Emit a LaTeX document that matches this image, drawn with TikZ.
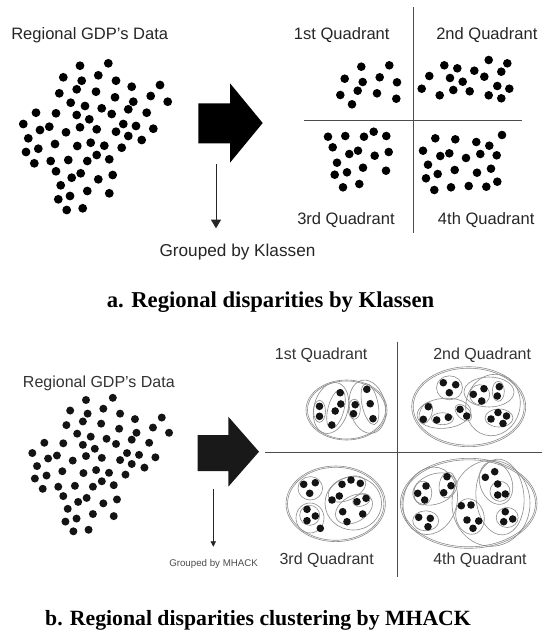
\documentclass[tikz,border=0pt]{standalone}
\usepackage{fontspec}
\setmainfont{Liberation Serif}
\newfontfamily\arial{Liberation Sans}
\usetikzlibrary{arrows.meta}
\begin{document}
\begin{tikzpicture}[x=0.75pt,y=-0.75pt,
  lbl/.style={font=\arial\fontsize{12.4}{14}\selectfont, text=black!85, inner sep=0pt, anchor=base west},
  lblb/.style={font=\arial\fontsize{12.0}{14}\selectfont, text=black!80, inner sep=0pt, anchor=base west},
  captxt/.style={font=\bfseries\fontsize{17}{20}\selectfont, inner sep=0pt, anchor=base},
  divline/.style={draw=black!70, line width=0.9pt},
  grp/.style={draw=black!45, line width=0.45pt},
  bigarrow/.style={fill=black},
  thinarrow/.style={draw=black!85, line width=0.7pt}
]
\useasboundingbox (0,0) rectangle (544,640);
\fill[white] (0,0) rectangle (544,640);

\def\dotsTL{80/65.7, 108.3/63.3, 63.3/77.3, 98.3/75.3, 81.7/80.7, 116/80.7, 131.7/86.7, 160/85,
59.3/93.3, 76.7/89.3, 96/91.7, 115/97.3, 133.3/101.7, 150.7/96, 167.7/101.7,
70.7/102.7, 85/106, 101.7/108.3, 111.7/114, 128.3/109.3, 146.7/112.7,
36/112.7, 56/113.3, 76.7/115, 89.3/119.3,
23.3/124, 40/130, 49.3/126.7, 66/132.3, 80/127.3, 96.7/129.3, 116/131.7, 123.3/124, 136/126, 153.3/128.7,
28.3/138.3, 128.3/136, 141.7/140,
26/152, 38.3/148.7, 55/144, 77.3/146, 90.7/142.7, 104.3/145.7, 121.7/147.7,
34.3/163.3, 50.7/161, 68.3/160, 87.3/161, 96.7/155, 109.3/159.3,
56/171.3, 71.7/177.7, 80.7/173.3, 98.3/179.3, 112.7/175,
60.7/185.3, 87.3/191, 109.3/193.3, 58.3/199.3, 70/196, 66.7/210, 82.7/208.3}

% ================= PART A =================
\node[lbl] (dataA) at (11,39.5) {Regional GDP’s Data};
\foreach \x/\y in \dotsTL { \fill (\x,\y) circle[radius=4.4]; }

\fill[bigarrow] (198.3,103.3) -- (230,103.3) -- (230,83.3) -- (262.7,123) -- (230,162.7) -- (230,143.3) -- (198.3,143.3) -- cycle;

\coordinate (ka) at (216,164.3);
\coordinate (kb) at (216,228.3);
\draw[thinarrow, -{Triangle[width=7.5pt,length=6.5pt]}] (ka) -- (kb);
\node[lbl, font=\arial\fontsize{12.9}{14}\selectfont] (grpK) at (159.3,256.5) {Grouped by Klassen};

\coordinate (vA1) at (413.7,7);
\coordinate (vA2) at (413.7,233);
\coordinate (hA1) at (303.7,120.7);
\coordinate (hA2) at (522,120.7);
\draw[divline] (vA1) -- (vA2);
\draw[divline] (hA1) -- (hA2);

\node[lbl] (qa1) at (293.7,39) {1st Quadrant};
\node[lbl] (qa2) at (436,39) {2nd Quadrant};
\node[lbl] (qa3) at (297,224) {3rd Quadrant};
\node[lbl] (qa4) at (437.7,224) {4th Quadrant};

\foreach \x/\y in {361.3/66.7, 389.3/65.3, 344.7/78.7, 379.7/77.3, 362.7/82, 397/82.3, 340.3/95, 357.7/90.7, 377/93.3, 352/104.3, 396.3/98.7,
444.3/65.3, 457.3/68.3, 488.7/60, 507.3/63.3, 429.3/76, 474.3/70.7, 450/78, 484.3/76.7, 501.3/71.7, 462.7/81.7, 421.7/88.7, 439.7/95.3, 453.3/90, 469.7/91.3, 488.7/95.3, 497.3/86, 509.3/88.7, 501.3/98.3,
328/136.7, 345.3/136, 364/136.7, 373.7/131.7, 386.3/136, 332.7/147.3, 349.3/154, 358/150.7, 388.7/152, 374.7/155.7, 337/162.7, 363/167.7, 386/170.7, 334.7/174.7, 347/172.3, 343/187.3, 359.3/184,
435.3/138.3, 455.3/139.3, 476.3/142, 502/135, 423/150.7, 440.3/156, 449.3/153.3, 466/158, 480.3/154, 489.3/145.7, 496.7/155.3, 428/164.7, 454.7/170, 477/172.7, 491/168.7, 426/178.3, 437.7/174, 434.3/190, 451/187.3, 468.7/186, 486.3/186.7, 497.3/181.7}
  { \fill (\x,\y) circle[radius=4.3]; }

\node[captxt] (capA) at (270.5,307) {a. Regional disparities by Klassen};

% ================= PART B =================
\node[lblb] (dataB) at (22.7,387) {Regional GDP’s Data};
\foreach \x/\y in \dotsTL { \fill[black!92] ({0.947*\x+10.24},{0.91*\y+340.2}) circle[radius=4.0]; }

\fill[bigarrow, fill=black!90] (197.7,435) -- (228.3,435) -- (228.3,416.7) -- (259,451.7) -- (228.3,486.7) -- (228.3,471) -- (197.7,471) -- cycle;

\coordinate (ma) at (213.3,489.3);
\coordinate (mb) at (213.3,546.7);
\draw[thinarrow, line width=0.5pt, -{Triangle[width=4pt,length=4pt]}] (ma) -- (mb);
\node[font=\arial\fontsize{7.3}{9}\selectfont, text=black!70, inner sep=0pt, anchor=base west] (grpM) at (169,566) {Grouped by MHACK};

\coordinate (vB1) at (397,341.7);
\coordinate (vB2) at (397,576.7);
\coordinate (hB1) at (265,452.7);
\coordinate (hB2) at (542,452.7);
\draw[divline, line width=0.7pt] (vB1) -- (vB2);
\draw[divline, line width=0.7pt] (hB1) -- (hB2);

\node[lblb] (qb1) at (274.7,359) {1st Quadrant};
\node[lblb] (qb2) at (433,359) {2nd Quadrant};
\node[lblb] (qb3) at (279.3,564) {3rd Quadrant};
\node[lblb] (qb4) at (433,564) {4th Quadrant};

% Q1 ellipses
\draw[grp] (346.5,410) ellipse (40.5 and 30);
\draw[grp] (346.5,410) ellipse (39 and 29);
\draw[grp, rotate around={-15:(331,408)}] (331,408) ellipse (17 and 26);
\draw[grp, rotate around={-15:(336,409)}] (336,409) ellipse (8 and 20);
\draw[grp] (319.5,411.3) ellipse (6 and 11);
\draw[grp, rotate around={12:(367.5,406.7)}] (367.5,406.7) ellipse (18 and 27);
\draw[grp] (354.3,409.2) ellipse (6 and 10);
\draw[grp, rotate around={12:(370,404)}] (370,404) ellipse (8 and 21);

% Q2 ellipses
\draw[grp] (468.7,406.7) ellipse (57 and 40);
\draw[grp] (468.7,406.7) ellipse (55.5 and 38.5);
\draw[grp, rotate around={-15:(493,405)}] (493,405) ellipse (27 and 31);
\draw[grp] (489,392) ellipse (25 and 15);
\draw[grp] (449.5,387.8) ellipse (13 and 12);
\draw[grp, rotate around={5:(444,413.3)}] (444,413.3) ellipse (27 and 15);
\draw[grp, rotate around={-20:(425.8,413)}] (425.8,413) ellipse (6 and 11);
\draw[grp] (442.5,418.7) ellipse (11 and 6);
\draw[grp, rotate around={-45:(463.3,412.7)}] (463.3,412.7) ellipse (10 and 6);
\draw[grp] (479.7,394.7) ellipse (10 and 10);
\draw[grp] (498.3,391.3) ellipse (6 and 10);
\draw[grp] (499,418) ellipse (14 and 9);

% Q3 ellipses
\draw[grp] (335.7,503.8) ellipse (49.7 and 37.8);
\draw[grp] (335.7,503.8) ellipse (48.2 and 36.5);
\draw[grp] (310.3,488.3) ellipse (12.3 and 11.7);
\draw[grp] (310,518) ellipse (14 and 15);
\draw[grp] (309.7,515.3) ellipse (10 and 10);
\draw[grp] (353.3,503.3) ellipse (28.3 and 26.7);
\draw[grp, rotate around={25:(347,489)}] (347,489) ellipse (20 and 11);
\draw[grp, rotate around={30:(354,509)}] (354,509) ellipse (20 and 13);
\draw[grp, rotate around={20:(361.5,500)}] (361.5,500) ellipse (9 and 6);

% Q4 ellipses
\draw[grp] (468.7,503.3) ellipse (68.3 and 45);
\draw[grp] (468.7,503.3) ellipse (66.8 and 43.5);
\draw[grp, rotate around={-15:(430.3,500.8)}] (430.3,500.8) ellipse (26.7 and 34.2);
\draw[grp, rotate around={20:(435,489)}] (435,489) ellipse (23 and 15);
\draw[grp] (422.8,493.1) ellipse (9 and 12);
\draw[grp, rotate around={-10:(447.2,485)}] (447.2,485) ellipse (8 and 13);
\draw[grp] (425.7,520.8) ellipse (13 and 10);
\draw[grp] (491,503.3) ellipse (39 and 43);
\draw[grp, rotate around={15:(470,516.5)}] (470,516.5) ellipse (14 and 18);
\draw[grp, rotate around={20:(496,483)}] (496,483) ellipse (16 and 22);
\draw[grp] (500,491.3) ellipse (10 and 10);
\draw[grp, rotate around={5:(500,497)}] (500,497) ellipse (24 and 38);
\draw[grp] (507.2,517.5) ellipse (11 and 10);

% bottom quadrant dots
\foreach \x/\y in {319.5/406.3, 319.5/416.3, 340.2/392.7, 340.8/404, 335.2/411, 331.8/425, 355.2/404.7, 353.5/413.7, 366.8/389.3, 370.2/403.7, 373/418.7,
443.3/382.7, 455.7/384.7, 449.3/392.7,
473.3/394.3, 484/388.7, 481.7/401, 499.3/386.7, 497.3/396,
428.3/406.7, 423.3/419.3, 436.7/420, 448.3/417.3, 460/409.3, 466.7/416,
491/419, 498/412.5, 506.5/416, 503/423.5,
303.7/484.3, 315.3/482.7, 309.7/493.3, 307/509.3, 315.3/516, 307/520.7, 320.3/528.3,
342/484.3, 351/480, 360.3/483.3, 332/500, 339.3/496, 357/501.7, 366/498.3, 342.7/511.7, 362.7/514, 347/521.7,
426/486, 417.7/493.3, 424.7/500, 447/476.7, 451/485.7, 443.7/492.7, 418.7/517.3, 430.3/518.3, 428/526.7,
461.3/505.7, 471/505, 467/520, 478.7/521, 473/528.3, 485.3/477.3, 494.7/471.7, 497.7/484, 497.7/495, 505.3/494,
505.3/511.7, 503.7/521.7, 512.7/519}
  { \fill[black!92] (\x,\y) circle[radius=3.8]; }

\node[captxt, font=\bfseries\fontsize{16.3}{20}\selectfont] (capB) at (258,625) {b. Regional disparities clustering by MHACK};
\end{tikzpicture}
\end{document}
